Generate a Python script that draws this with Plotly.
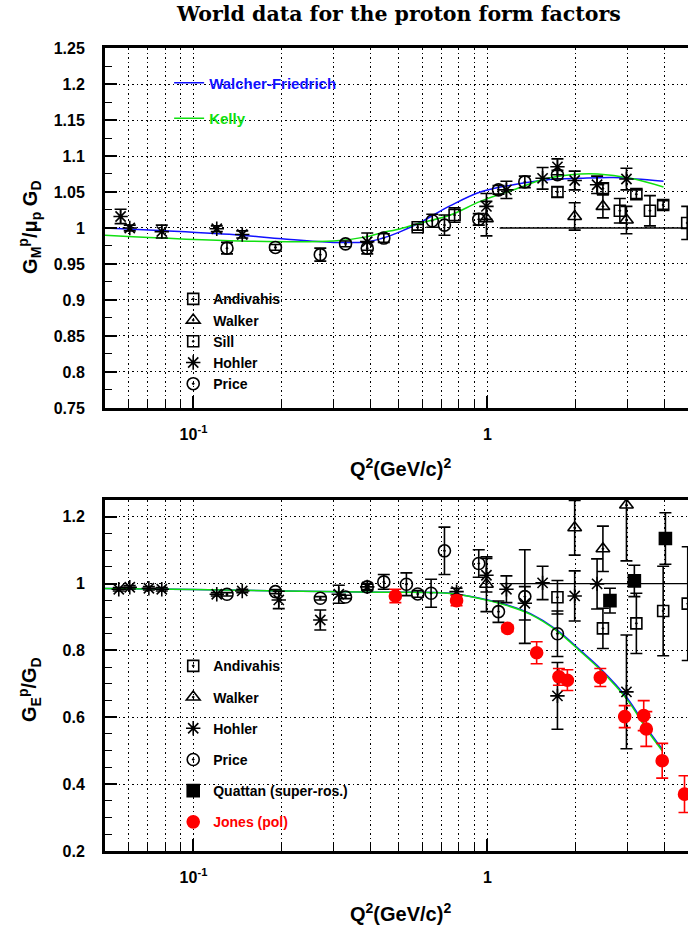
import numpy as np
import plotly.graph_objects as go

# ---------------- data: top panel  G_M^p / (mu_p G_D) ----------------
hohler_m_q2 = [0.0565, 0.0607, 0.078, 0.120, 0.1465, 0.390, 0.992, 1.16, 1.54, 1.73, 1.98, 2.36, 2.97]
hohler_m_val = [1.016, 1.000, 0.995, 0.999, 0.991, 0.981, 1.030, 1.053, 1.069, 1.085, 1.066, 1.060, 1.068]
hohler_m_err = [0.010, 0.004, 0.009, 0.004, 0.005, 0.012, 0.018, 0.012, 0.015, 0.011, 0.013, 0.012, 0.015]

price_m_q2 = [0.130, 0.190, 0.270, 0.329, 0.390, 0.444, 0.649, 0.714, 0.934, 1.09, 1.34, 1.73]
price_m_val = [0.972, 0.973, 0.963, 0.978, 0.972, 0.986, 1.010, 1.004, 1.012, 1.053, 1.064, 1.074]
price_m_err = [0.008, 0.004, 0.009, 0.004, 0.008, 0.006, 0.009, 0.014, 0.008, 0.006, 0.008, 0.006]

walker_m_q2 = [0.992, 1.98, 2.47, 2.97]
walker_m_val = [1.013, 1.016, 1.030, 1.011]
walker_m_err = [0.024, 0.019, 0.016, 0.019]

andivahis_m_q2 = [1.73, 2.47, 3.21, 3.96]
andivahis_m_val = [1.050, 1.055, 1.047, 1.032]
andivahis_m_err = [0.007, 0.007, 0.006, 0.006]

sill_m_q2 = [0.579, 0.773, 2.82, 3.57, 4.78]
sill_m_val = [1.001, 1.018, 1.024, 1.024, 1.007]
sill_m_err = [0.004, 0.010, 0.017, 0.021, 0.023]

wf_m_q2 = [0.05, 0.08, 0.1445, 0.2, 0.299, 0.391, 0.433, 0.506, 0.592, 0.748, 0.946, 1.225, 1.60, 2.07, 2.68, 3.2, 3.97]
wf_m_val = [1.000, 0.996, 0.990, 0.985, 0.980, 0.981, 0.985, 0.995, 1.008, 1.031, 1.050, 1.060, 1.067, 1.069, 1.070, 1.068, 1.065]

kelly_m_q2 = [0.05, 0.1445, 0.299, 0.391, 0.433, 0.506, 0.592, 0.748, 0.946, 1.225, 1.60, 2.07, 2.37, 3.06, 3.97]
kelly_m_val = [0.990, 0.982, 0.982, 0.988, 0.993, 0.999, 1.007, 1.018, 1.037, 1.053, 1.069, 1.075, 1.075, 1.069, 1.057]

# ---------------- data: bottom panel  G_E^p / G_D ----------------
hohler_e_q2 = [0.0557, 0.0607, 0.0705, 0.078, 0.120, 0.1465, 0.195, 0.270, 0.312, 0.390, 0.785, 0.992, 1.16, 1.34, 1.54, 1.73, 1.98, 2.36, 2.97]
hohler_e_val = [0.983, 0.989, 0.986, 0.983, 0.968, 0.978, 0.951, 0.891, 0.968, 0.990, 0.976, 1.025, 0.983, 0.941, 1.002, 0.664, 0.963, 0.999, 0.676]
hohler_e_err = [0.005, 0.005, 0.005, 0.005, 0.005, 0.005, 0.026, 0.030, 0.027, 0.010, 0.010, 0.050, 0.040, 0.050, 0.050, 0.100, 0.075, 0.075, 0.170]

price_e_q2 = [0.130, 0.190, 0.270, 0.329, 0.390, 0.444, 0.530, 0.579, 0.643, 0.714, 0.934, 1.09, 1.34, 1.73]
price_e_val = [0.968, 0.976, 0.956, 0.960, 0.990, 1.005, 0.998, 0.969, 0.971, 1.098, 1.060, 0.916, 0.961, 0.850]
price_e_err = [0.005, 0.006, 0.005, 0.005, 0.008, 0.022, 0.034, 0.010, 0.042, 0.071, 0.041, 0.032, 0.140, 0.068]

walker_e_q2 = [0.992, 1.98, 2.47, 2.97]
walker_e_val = [0.998, 1.167, 1.104, 1.235]
walker_e_err = [0.082, 0.082, 0.068, 0.167]

andivahis_e_q2 = [1.73, 2.47, 3.21, 3.96, 4.80]
andivahis_e_val = [0.959, 0.866, 0.881, 0.918, 0.940]
andivahis_e_err = [0.050, 0.060, 0.090, 0.134, 0.170]

quattan_e_q2 = [2.61, 3.16, 4.03]
quattan_e_val = [0.949, 1.008, 1.135]
quattan_e_err = [0.037, 0.047, 0.077]

jones_e_q2 = [0.486, 0.785, 1.17, 1.47, 1.75, 1.87, 2.42, 2.93, 3.40, 3.47, 3.93, 4.68]
jones_e_val = [0.963, 0.949, 0.866, 0.793, 0.721, 0.711, 0.719, 0.602, 0.605, 0.565, 0.470, 0.370]
jones_e_err = [0.020, 0.015, 0.010, 0.033, 0.025, 0.031, 0.027, 0.033, 0.045, 0.052, 0.052, 0.055]

fit_e_q2 = [0.05, 0.1, 0.2, 0.433, 0.729, 0.898, 1.167, 1.40, 1.726, 2.07, 2.42, 2.99, 3.49, 3.93]
wf_e_val = [0.985, 0.982, 0.978, 0.974, 0.972, 0.960, 0.936, 0.910, 0.861, 0.800, 0.746, 0.657, 0.567, 0.505]
kelly_e_val = [0.985, 0.982, 0.978, 0.974, 0.971, 0.959, 0.934, 0.908, 0.858, 0.797, 0.742, 0.652, 0.562, 0.500]

unity_q2 = [1.1, 6.0]
unity_val = [1.0, 1.0]

x_minor = [0.06, 0.07, 0.08, 0.09, 0.2, 0.3, 0.4, 0.5, 0.6, 0.7, 0.8, 0.9, 2, 3, 4]
x_major = [0.1, 1]
x_major_text = ["10<sup>-1</sup>", "1"]
y_top_ticks = [0.75, 0.8, 0.85, 0.9, 0.95, 1.0, 1.05, 1.1, 1.15, 1.2, 1.25]
y_top_text = ["0.75", "0.8", "0.85", "0.9", "0.95", "1", "1.05", "1.1", "1.15", "1.2", "1.25"]
y_bot_ticks = [0.2, 0.4, 0.6, 0.8, 1.0, 1.2]
y_bot_text = ["0.2", "0.4", "0.6", "0.8", "1", "1.2"]

FONT = "Liberation Sans"
BLUE = "#1010ff"
GREEN = "#10e010"
RED = "#ff0000"

fig = go.Figure()


def add_pts(x, y, e, xa, ya, name, symbol, color, size, legend, lw=1.6, show=True):
    fig.add_trace(go.Scatter(
        x=x, y=y, xaxis=xa, yaxis=ya, mode="markers", name=name,
        legend=legend, legendgroup=legend + name, showlegend=show,
        marker=dict(symbol=symbol, size=size, color=color,
                    line=dict(width=lw, color=color)),
        error_y=dict(type="data", array=e, color=color, thickness=1.6, width=6),
    ))


def add_line(x, y, xa, ya, name, color, legend, show=True, width=1.5):
    fig.add_trace(go.Scatter(
        x=x, y=y, xaxis=xa, yaxis=ya, mode="lines", name=name,
        legend=legend, legendgroup=legend + name, showlegend=show,
        line=dict(color=color, width=width, shape="spline"),
    ))


# top panel
add_line(unity_q2, unity_val, "x", "y", "unity", "black", "legend", show=False, width=1.3)
add_line(wf_m_q2, wf_m_val, "x", "y", '<span style="color:#1010ff">Walcher-Friedrich</span>', BLUE, "legend2")
add_line(kelly_m_q2, kelly_m_val, "x", "y", '<span style="color:#10e010">Kelly</span>', GREEN, "legend2")
add_pts(andivahis_m_q2, andivahis_m_val, andivahis_m_err, "x", "y", "Andivahis", "square-open-dot", "black", 11, "legend")
add_pts(walker_m_q2, walker_m_val, walker_m_err, "x", "y", "Walker", "triangle-up-open-dot", "black", 12, "legend")
add_pts(sill_m_q2, sill_m_val, sill_m_err, "x", "y", "Sill", "square-open-dot", "black", 11, "legend")
add_pts(hohler_m_q2, hohler_m_val, hohler_m_err, "x", "y", "Hohler", "asterisk-open", "black", 12, "legend")
add_pts(price_m_q2, price_m_val, price_m_err, "x", "y", "Price", "circle-open-dot", "black", 12, "legend")

# bottom panel
add_line(unity_q2, unity_val, "x2", "y2", "unity", "black", "legend3", show=False, width=1.3)
add_line(fit_e_q2, wf_e_val, "x2", "y2", "WF", BLUE, "legend3", show=False)
add_line(fit_e_q2, kelly_e_val, "x2", "y2", "Kelly", GREEN, "legend3", show=False)
add_pts(andivahis_e_q2, andivahis_e_val, andivahis_e_err, "x2", "y2", "Andivahis", "square-open-dot", "black", 11, "legend3")
add_pts(walker_e_q2, walker_e_val, walker_e_err, "x2", "y2", "Walker", "triangle-up-open-dot", "black", 12, "legend3")
add_pts(hohler_e_q2, hohler_e_val, hohler_e_err, "x2", "y2", "Hohler", "asterisk-open", "black", 12, "legend3")
add_pts(price_e_q2, price_e_val, price_e_err, "x2", "y2", "Price", "circle-open-dot", "black", 12, "legend3")
add_pts(quattan_e_q2, quattan_e_val, quattan_e_err, "x2", "y2", "Quattan (super-ros.)", "square", "black", 12, "legend3")
add_pts(jones_e_q2, jones_e_val, jones_e_err, "x2", "y2", '<span style="color:#ff0000">Jones (pol)</span>', "circle", RED, 12, "legend3")

grid_dash = "1.5px,3px"
xrange = [np.log10(0.05), np.log10(4.81)]


def xaxis_cfg(anchor):
    return dict(
        type="log", range=xrange, anchor=anchor, domain=[0, 1],
        tickmode="array", tickvals=x_major, ticktext=x_major_text,
        ticks="inside", ticklen=12, tickwidth=1.5, tickcolor="black",
        showgrid=True, gridcolor="black", gridwidth=1, griddash=grid_dash,
        minor=dict(tickmode="array", tickvals=x_minor, ticks="inside", ticklen=7,
                   tickwidth=1, tickcolor="black", showgrid=True, gridcolor="black",
                   gridwidth=1, griddash=grid_dash),
        showline=True, linewidth=3, linecolor="black", mirror=True, zeroline=False,
        tickfont=dict(family=FONT, size=16, color="black", weight="bold"),
        ticklabelstandoff=10,
    )


def yaxis_cfg(anchor, domain, rng, tv, tt, minor_dtick):
    return dict(
        anchor=anchor, domain=domain, range=rng,
        tickmode="array", tickvals=tv, ticktext=tt,
        ticks="inside", ticklen=12, tickwidth=1.5, tickcolor="black",
        showgrid=True, gridcolor="black", gridwidth=1, griddash=grid_dash,
        minor=dict(tick0=rng[0], dtick=minor_dtick, ticks="inside", ticklen=7,
                   tickwidth=1, tickcolor="black", showgrid=False),
        showline=True, linewidth=3, linecolor="black", mirror=False, zeroline=False,
        tickfont=dict(family=FONT, size=16, color="black", weight="bold"),
        ticklabelstandoff=14,
    )


legend_font = dict(family=FONT, size=14, color="black", weight="bold")

fig.update_layout(
    width=688, height=932,
    margin=dict(l=105, r=0, t=48, b=81),
    paper_bgcolor="white", plot_bgcolor="white",
    xaxis=xaxis_cfg("y"),
    yaxis=yaxis_cfg("x", [0.5517, 1.0], [0.75, 1.25], y_top_ticks, y_top_text, 0.025),
    xaxis2=xaxis_cfg("y2"),
    yaxis2=yaxis_cfg("x2", [0.0, 0.4371], [0.2, 1.25], y_bot_ticks, y_bot_text, 0.05),
    legend=dict(x=0.117, y=0.707, xanchor="left", yanchor="top", bgcolor="rgba(0,0,0,0)",
                font=legend_font, tracegroupgap=0),
    legend2=dict(x=0.11, y=0.977, xanchor="left", yanchor="top", bgcolor="rgba(0,0,0,0)",
                 font=dict(family=FONT, size=15, weight="bold"), tracegroupgap=13),
    legend3=dict(x=0.117, y=0.250, xanchor="left", yanchor="top", bgcolor="rgba(0,0,0,0)",
                 font=legend_font, tracegroupgap=10),
    showlegend=True,
)

ann_font = dict(family=FONT, size=20, color="black", weight="bold")
fig.add_annotation(text="World data for the proton form factors", xref="paper", yref="paper",
                   x=0.504, y=1.042, xanchor="center", yanchor="middle", showarrow=False,
                   font=dict(family="DejaVu Serif", size=20.5, color="black", weight="bold"))
fig.add_annotation(text="Q<sup>2</sup>(GeV/c)<sup>2</sup>", xref="paper", yref="paper",
                   x=0.507, y=0.478, xanchor="center", yanchor="middle", showarrow=False, font=ann_font)
fig.add_annotation(text="Q<sup>2</sup>(GeV/c)<sup>2</sup>", xref="paper", yref="paper",
                   x=0.507, y=-0.077, xanchor="center", yanchor="middle", showarrow=False, font=ann_font)
fig.add_annotation(text="G<sub>M</sub><sup>p</sup>/μ<sub>p</sub> G<sub>D</sub>", xref="paper", yref="paper",
                   x=-0.1286, y=0.776, xanchor="center", yanchor="middle", textangle=-90,
                   showarrow=False, font=ann_font)
fig.add_annotation(text="G<sub>E</sub><sup>p</sup>/G<sub>D</sub>", xref="paper", yref="paper",
                   x=-0.1286, y=0.2005, xanchor="center", yanchor="middle", textangle=-90,
                   showarrow=False, font=ann_font)

fig.write_html("out.html", config={"displayModeBar": False},
               post_script="document.body.style.margin='0px';document.body.style.overflow='hidden';")
